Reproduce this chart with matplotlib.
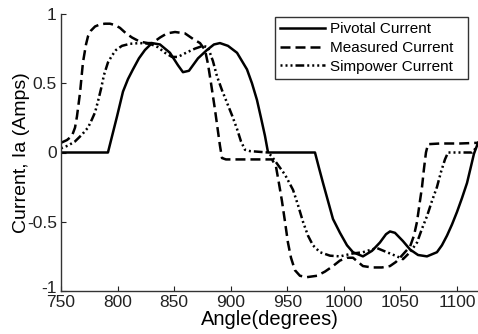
import numpy as np
import matplotlib
matplotlib.use("Agg")
import matplotlib.pyplot as plt
from matplotlib.transforms import ScaledTranslation

plt.rcParams['font.family'] = ['Liberation Sans', 'DejaVu Sans']
plt.rcParams['axes.unicode_minus'] = False

# Pivotal current (solid)
ang_piv = [750, 791.5, 799.5, 804.8, 809.2, 813.6, 818.9, 824.2, 830.4, 837.5, 846.3,
           853.4, 857.8, 863.1, 871.1, 879.0, 885.2, 890.5, 897.6, 905.6, 914.4,
           918.8, 923.2, 926.8, 930.3, 933.0, 974.5, 978.0, 981.6, 986.0, 990.4,
           996.6, 1002.8, 1008.1, 1016.9, 1024.9, 1031.9, 1037.3, 1040.8, 1045.2,
           1052.3, 1058.5, 1065.6, 1073.5, 1082.3, 1086.7, 1091.2, 1095.6, 1100.0,
           1104.4, 1108.9, 1112.4, 1115.0, 1118.6]
cur_piv = [0, 0, 0.26, 0.44, 0.53, 0.60, 0.68, 0.74, 0.79, 0.78, 0.72,
           0.63, 0.58, 0.59, 0.68, 0.74, 0.78, 0.79, 0.77, 0.72, 0.60,
           0.50, 0.38, 0.25, 0.12, 0, 0, -0.11, -0.22, -0.35, -0.48,
           -0.58, -0.67, -0.72, -0.75, -0.71, -0.65, -0.59, -0.57, -0.58,
           -0.64, -0.70, -0.74, -0.75, -0.72, -0.67, -0.60, -0.52, -0.43,
           -0.33, -0.22, -0.10, -0.01, 0.07]

# Measured current (dashed)
ang_meas = [750, 755.3, 759.7, 762.4, 764.1, 766.8, 769.4, 772.1, 773.9, 776.5, 780.1,
            784.5, 788.9, 793.3, 797.7, 802.1, 807.5, 812.8, 819.8, 826.9, 830.7,
            837.5, 843.7, 850.8, 859.6, 866.7, 872.9, 877.3, 879.9, 882.6, 886.1,
            888.8, 890.5, 892.3, 895.8, 936.5, 940.0, 942.6, 945.3, 948.0, 950.6,
            953.3, 956.8, 961.2, 967.4, 976.3, 983.3, 990.4, 996.6, 1002.8, 1008.1,
            1012.5, 1016.9, 1024.9, 1033.7, 1040.8, 1046.1, 1049.6, 1054.0, 1058.5,
            1062.0, 1064.7, 1067.3, 1069.1, 1070.8, 1072.6, 1074.4, 1085.0, 1102.7,
            1118.6]
cur_meas = [0.07, 0.09, 0.12, 0.18, 0.26, 0.43, 0.65, 0.78, 0.84, 0.88, 0.91,
            0.925, 0.93, 0.93, 0.92, 0.90, 0.86, 0.83, 0.80, 0.79, 0.79,
            0.83, 0.86, 0.87, 0.86, 0.82, 0.79, 0.74, 0.64, 0.50, 0.31,
            0.15, 0.05, -0.04, -0.05, -0.05, -0.10, -0.22, -0.35, -0.50, -0.65,
            -0.76, -0.85, -0.89, -0.90, -0.89, -0.86, -0.82, -0.78, -0.76, -0.76,
            -0.79, -0.82, -0.83, -0.83, -0.82, -0.79, -0.76, -0.72, -0.68,
            -0.60, -0.50, -0.35, -0.25, -0.12, 0.0, 0.06, 0.065, 0.065,
            0.07]

# Simpower current (dash-dot)
ang_sim = [750, 756.2, 762.4, 768.6, 773.9, 777.4, 780.1, 782.7, 785.4, 788.0, 791.5,
           795.1, 798.6, 803.9, 811.0, 819.8, 828.7, 835.7, 841.9, 848.1, 853.4,
           860.5, 868.4, 875.5, 879.9, 884.3, 887.9, 892.3, 896.7, 901.1, 905.6,
           909.1, 912.6, 917.1, 933.0, 936.5, 941.8, 948.0, 955.1, 959.5, 963.9,
           968.3, 972.7, 978.9, 987.8, 996.6, 1007.2, 1016.9, 1024.9, 1029.3, 1038.1,
           1047.0, 1052.3, 1058.5, 1064.7, 1069.1, 1073.5, 1077.9, 1082.3, 1085.9,
           1089.4, 1092.1, 1113.3, 1118.6]
cur_sim = [0.03, 0.05, 0.08, 0.13, 0.18, 0.24, 0.29, 0.37, 0.46, 0.56, 0.65,
           0.70, 0.74, 0.77, 0.785, 0.79, 0.785, 0.76, 0.72, 0.69, 0.69,
           0.72, 0.75, 0.77, 0.76, 0.66, 0.55, 0.45, 0.36, 0.27, 0.17,
           0.08, 0.02, 0.01, 0.0, -0.03, -0.09, -0.16, -0.27, -0.38, -0.50,
           -0.60, -0.67, -0.72, -0.745, -0.75, -0.73, -0.72, -0.70, -0.69, -0.72,
           -0.75, -0.77, -0.72, -0.65, -0.55, -0.46, -0.35, -0.25, -0.14,
           -0.05, 0.0, 0.0, 0.05]

xticks = [750, 800, 850, 900, 950, 1000, 1050, 1100]
yticks = [-1, -0.5, 0, 0.5, 1]
ytick_labels = ['-1', '-0.5', '0', '0.5', '1']

fig = plt.figure(figsize=(4.78, 3.34), dpi=100)
ax = fig.add_axes([61 / 478, 43 / 334, 417 / 478, 277 / 334])

ax.plot(ang_piv, cur_piv, color='black', lw=1.8, ls='-', label='Pivotal Current')
ax.plot(ang_meas, cur_meas, color='black', lw=1.8, ls=(0, (4, 2)), label='Measured Current')
ax.plot(ang_sim, cur_sim, color='black', lw=1.8,
        ls=(0, (0.8, 1.2, 0.8, 1.2, 0.8, 1.2, 3.5, 1.2)), label='Simpower Current')

ax.set_xlim(750, 1118.6)
ax.set_ylim(-1, 1)
ax.set_xticks(xticks)
ax.set_xticklabels([str(t) for t in xticks])
ax.set_yticks(yticks)
ax.set_yticklabels(ytick_labels)
ax.tick_params(direction='in', length=3.5, width=0.8, labelsize=12.5, pad=3, colors='#222222')

# the "-1" label sits a little higher in the original
lbl = ax.get_yticklabels()[0]
lbl.set_transform(lbl.get_transform() + ScaledTranslation(0, 3 / 72, fig.dpi_scale_trans))

for side in ['top', 'right']:
    ax.spines[side].set_visible(False)
for side in ['left', 'bottom']:
    ax.spines[side].set_linewidth(1.0)
    ax.spines[side].set_color('#333333')

ax.set_xlabel('Angle(degrees)', fontsize=14.5, labelpad=0)
ax.set_ylabel('Current, Ia (Amps)', fontsize=14, labelpad=-2)

leg = ax.legend(loc='upper left', bbox_to_anchor=(275 / 478, 1 - 84 / 334, 193 / 478, 67 / 334),
                bbox_transform=fig.transFigure, mode='expand', fontsize=11, frameon=True,
                fancybox=False, borderaxespad=0, borderpad=0.35, handlelength=2.9,
                handletextpad=0.35, labelspacing=0.3)
leg.get_frame().set_edgecolor('black')
leg.get_frame().set_linewidth(1.0)

fig.savefig('out.png', dpi=100)
